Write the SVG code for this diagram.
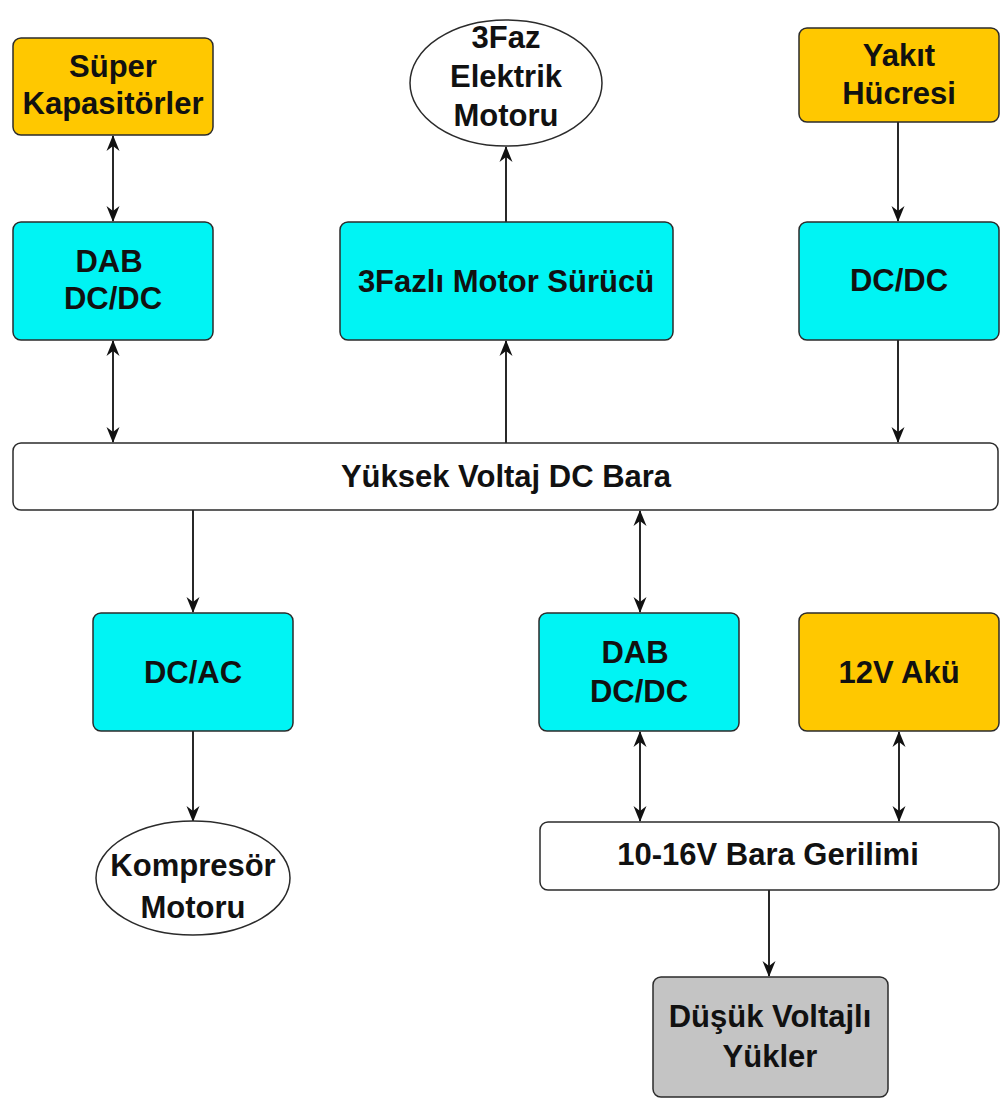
<svg xmlns="http://www.w3.org/2000/svg" width="1004" height="1101" viewBox="0 0 1004 1101">
  <defs>
    <style>
      .box { stroke: #2b2b2b; stroke-width: 1.5; }
      .src { fill: #FFC800; }
      .conv { fill: #00F4F4; }
      .bus { fill: #FFFFFF; }
      .load { fill: #C4C4C4; }
      .motor { fill: #FFFFFF; stroke: #2b2b2b; stroke-width: 1.5; }
      text { font-family: "Liberation Sans", Arial, sans-serif; font-weight: bold; font-size: 31px; fill: #111; text-anchor: middle; }
      .wire { stroke: #111; stroke-width: 1.8; fill: none; }
      .one { marker-end: url(#head); }
      .two { marker-start: url(#head); marker-end: url(#head); }
    </style>
    <marker id="head" viewBox="0 0 16 14" refX="15" refY="7" markerWidth="16" markerHeight="14" markerUnits="userSpaceOnUse" orient="auto-start-reverse">
      <path d="M0,0.5 L16,7 L0,13.5 L5,7 z" fill="#111"/>
    </marker>
  </defs>

  <rect width="1004" height="1101" fill="#FFFFFF"/>

  <!-- connectors -->
  <g id="connectors">
    <line class="wire two" x1="113" y1="136" x2="113" y2="221"/>
    <line class="wire two" x1="113" y1="341" x2="113" y2="442"/>
    <line class="wire one" x1="506" y1="222" x2="506" y2="147"/>
    <line class="wire one" x1="506" y1="443" x2="506" y2="341"/>
    <line class="wire one" x1="898" y1="122" x2="898" y2="221"/>
    <line class="wire one" x1="898" y1="340" x2="898" y2="442"/>
    <line class="wire one" x1="193" y1="510" x2="193" y2="612"/>
    <line class="wire one" x1="193" y1="731" x2="193" y2="821"/>
    <line class="wire two" x1="640" y1="511" x2="640" y2="612"/>
    <line class="wire two" x1="640" y1="732" x2="640" y2="821"/>
    <line class="wire two" x1="899" y1="732" x2="899" y2="821"/>
    <line class="wire one" x1="769" y1="890" x2="769" y2="976"/>
  </g>

  <!-- upper row -->
  <g id="super-kapasitorler">
    <rect class="box src" x="13" y="38" width="200" height="97" rx="8"/>
    <text x="113" y="77">Süper</text>
    <text x="113" y="114">Kapasitörler</text>
  </g>

  <g id="elektrik-motoru">
    <ellipse class="motor" cx="506" cy="83" rx="96" ry="63"/>
    <text x="506" y="48">3Faz</text>
    <text x="506" y="87">Elektrik</text>
    <text x="506" y="126">Motoru</text>
  </g>

  <g id="yakit-hucresi">
    <rect class="box src" x="799" y="28" width="200" height="94" rx="8"/>
    <text x="899" y="66">Yakıt</text>
    <text x="899" y="104">Hücresi</text>
  </g>

  <g id="dab-ust">
    <rect class="box conv" x="13" y="222" width="200" height="118" rx="8"/>
    <text x="109" y="272">DAB</text>
    <text x="113" y="309">DC/DC</text>
  </g>

  <g id="motor-surucu">
    <rect class="box conv" x="340" y="222" width="333" height="118" rx="8"/>
    <text x="506" y="292">3Fazlı Motor Sürücü</text>
  </g>

  <g id="dcdc-yakit">
    <rect class="box conv" x="799" y="222" width="200" height="118" rx="8"/>
    <text x="899" y="291">DC/DC</text>
  </g>

  <!-- high voltage bus -->
  <g id="yuksek-voltaj-bara">
    <rect class="box bus" x="13" y="443" width="985" height="67" rx="8"/>
    <text x="506" y="487">Yüksek Voltaj DC Bara</text>
  </g>

  <!-- lower row -->
  <g id="dcac">
    <rect class="box conv" x="93" y="613" width="200" height="118" rx="8"/>
    <text x="193" y="683">DC/AC</text>
  </g>

  <g id="kompresor-motoru">
    <ellipse class="motor" cx="193" cy="878" rx="97" ry="57"/>
    <text x="193" y="876">Kompresör</text>
    <text x="193" y="918">Motoru</text>
  </g>

  <g id="dab-alt">
    <rect class="box conv" x="539" y="613" width="200" height="118" rx="8"/>
    <text x="635" y="663">DAB</text>
    <text x="639" y="702">DC/DC</text>
  </g>

  <g id="aku-12v">
    <rect class="box src" x="799" y="613" width="200" height="118" rx="8"/>
    <text x="899" y="683">12V Akü</text>
  </g>

  <g id="alcak-bara">
    <rect class="box bus" x="540" y="822" width="459" height="68" rx="8"/>
    <text x="768" y="865">10-16V Bara Gerilimi</text>
  </g>

  <g id="dusuk-voltajli-yukler">
    <rect class="box load" x="653" y="977" width="235" height="120" rx="8"/>
    <text x="770" y="1027">Düşük Voltajlı</text>
    <text x="770" y="1067">Yükler</text>
  </g>
</svg>
